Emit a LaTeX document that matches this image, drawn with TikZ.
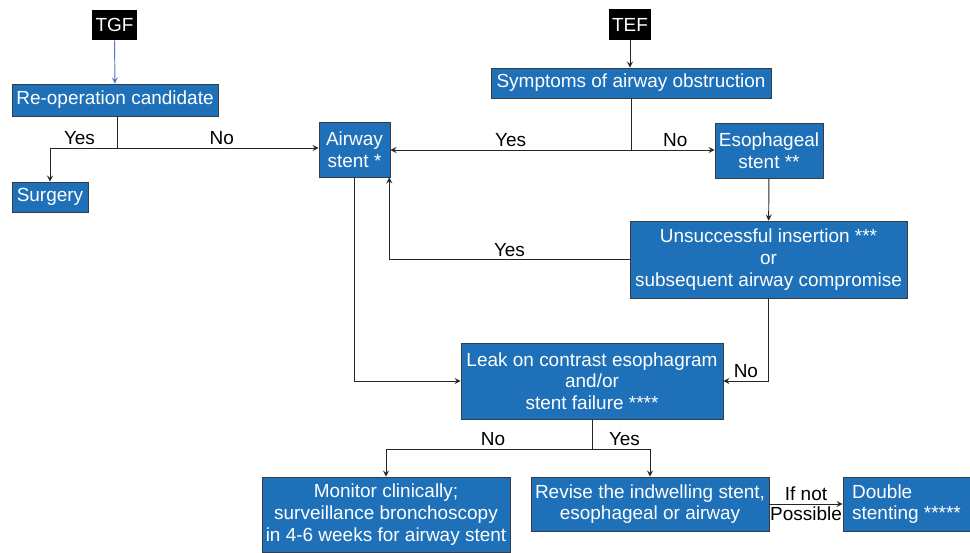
\documentclass[tikz,border=0pt]{standalone}
\usepackage{fontspec}
\setmainfont{Liberation Sans}
\usetikzlibrary{arrows}

\definecolor{boxblue}{RGB}{30,112,184}
\definecolor{boxline}{RGB}{55,60,70}
\definecolor{tgfblue}{RGB}{80,120,200}

\begin{document}
\begin{tikzpicture}[
		> = stealth, % arrow head style
		x = 0.02cm, y = -0.02cm, % one unit = one pixel of the sketch
		font = \fontsize{10.8}{12.4}\selectfont,
		thin % line style
		]
		
		\tikzstyle{box}=[
		draw = boxline,
		fill = boxblue,
		text = white,
		align = center,
		inner sep = 2pt
		]
		\tikzstyle{darkbox}=[
		fill = black,
		text = white,
		inner sep = 2pt
		]
		\tikzstyle{link}=[->, draw = black!85, line width = 0.55pt]
		\tikzstyle{plain}=[draw = black!85, line width = 0.55pt]
		\tikzstyle{lbl}=[inner sep = 1.5pt]
		
		\useasboundingbox (0,0) rectangle (970,552);
		
		% left branch
		\node[darkbox, minimum width=0.9cm, minimum height=0.6cm] (TGF) at (114.5,25) {TGF};
		\node[box, minimum width=4.12cm, minimum height=0.64cm] (reop) at (115,100) {Re-operation candidate};
		\node[box, minimum width=1.52cm, minimum height=0.6cm] (surgery) at (50,197) {Surgery};
		\node[box, minimum width=1.42cm, minimum height=1.1cm] (airway) at (354.5,149.5) {Airway\\stent *};
		
		% right branch
		\node[darkbox, minimum width=0.84cm, minimum height=0.62cm] (TEF) at (630,24.5) {TEF};
		\node[box, minimum width=5.6cm, minimum height=0.6cm] (symptoms) at (631,83) {Symptoms of airway obstruction};
		\node[box, minimum width=2.16cm, minimum height=1.1cm] (esoph) at (769,150.5) {Esophageal\\stent **};
		\node[box, minimum width=5.54cm, minimum height=1.54cm] (unsucc) at (768.5,259.5) {Unsuccessful insertion ***\\or\\subsequent airway compromise};
		
		% bottom
		\node[box, minimum width=5.24cm, minimum height=1.52cm] (leak) at (592,381) {Leak on contrast esophagram\\and/or\\stent failure ****};
		\node[box, minimum width=4.96cm, minimum height=1.5cm] (monitor) at (386,514.5) {Monitor clinically;\\surveillance bronchoscopy\\in 4-6 weeks for airway stent};
		\node[box, minimum width=4.76cm, minimum height=1.08cm] (revise) at (650,504) {Revise the indwelling stent,\\esophageal or airway};
		\node[box, minimum width=2.54cm, minimum height=1.08cm, align=left] (double) at (906.5,504) {Double\\stenting *****};
		
		\coordinate (splitL) at (117,148);
		\coordinate (splitR) at (631,150);
		\coordinate (splitB) at (592,449);
		
		\draw[link, draw=tgfblue] (TGF) -- (reop);
		\draw[plain] (reop.south -| splitL) -- (splitL);
		\draw[link] (splitL) -| node[lbl, above, pos=0.28] {Yes} (surgery);
		\draw[link] (splitL) -- node[lbl, above, pos=0.52] {No} (airway.west |- splitL);
		
		\draw[link] (TEF) -- (TEF |- symptoms.north);
		\draw[plain] (symptoms.south -| splitR) -- (splitR);
		\draw[link] (splitR) -- node[lbl, above, pos=0.5] {Yes} (airway.east |- splitR);
		\draw[link] (splitR) -- node[lbl, above, pos=0.53] {No} (esoph.west |- splitR);
		
		\draw[link] (esoph) -- (unsucc);
		\draw[link] (unsucc.west) -| node[lbl, above, pos=0.25] {Yes} ([xshift=-0.6pt]airway.south east);
		\draw[link] (airway.south) |- (leak.west);
		\draw[link] (unsucc.south) |- node[lbl, above, pos=0.75] {No} (leak.east);
		
		\draw[plain] (leak.south) -- (splitB);
		\draw[link] (splitB) -| node[lbl, above, pos=0.24] {No} (monitor.north);
		\draw[link] (splitB) -| node[lbl, above, pos=0.28] {Yes} (revise.north);
		\draw[link] (revise) -- node[lbl, above] {If not} node[lbl, below] {Possible} (double);
		
		\end{tikzpicture}
\end{document}
